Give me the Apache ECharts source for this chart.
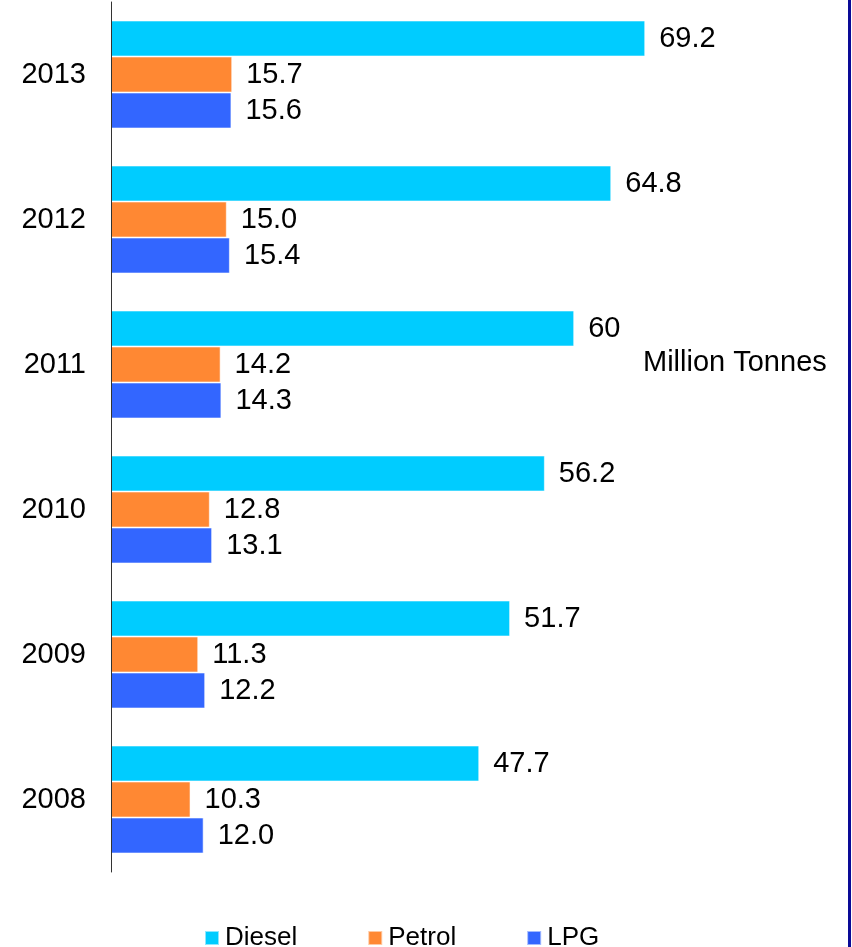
<!DOCTYPE html>
<html>
<head>
<meta charset="utf-8">
<title>Fuel consumption</title>
<script src="https://cdn.jsdelivr.net/npm/echarts@6/dist/echarts.min.js"></script>
<style>
  html, body { margin: 0; padding: 0; background: #fff; }
  #chart { width: 852px; height: 947px; }
</style>
</head>
<body>
<div id="chart"></div>
<script>
// Years, bottom to top
var years = ['2008', '2009', '2010', '2011', '2012', '2013'];
// Consumption in million tonnes (kept as written so labels show the same figures)
var diesel = ['47.7', '51.7', '56.2', '60', '64.8', '69.2'];
var petrol = ['10.3', '11.3', '12.8', '14.2', '15.0', '15.7'];
var lpg    = ['12.0', '12.2', '13.1', '14.3', '15.4', '15.6'];
var unitText = 'Million Tonnes';

var FONT = '"Liberation Sans", Arial, Helvetica, sans-serif';

function barSeries(name, values, color) {
  return {
    name: name,
    type: 'bar',
    data: values.map(Number),
    barWidth: 36,
    barGap: '0%',
    itemStyle: { color: color, borderColor: 'rgba(255,255,255,0.55)', borderWidth: 1 },
    label: {
      show: true,
      position: 'right',
      distance: 14,
      color: '#000',
      fontFamily: FONT,
      fontSize: 29,
      formatter: function (p) { return values[p.dataIndex]; }
    },
    emphasis: { disabled: true }
  };
}

var chart = echarts.init(document.getElementById('chart'), null, { renderer: 'canvas' });
chart.setOption({
  animation: false,
  backgroundColor: '#fff',
  grid: { left: 111, top: 2, width: 617.6, height: 870, containLabel: false },
  xAxis: {
    type: 'value',
    min: 0,
    max: 80,
    show: false
  },
  yAxis: {
    type: 'category',
    data: years,
    z: 5,
    axisLine: { show: true, lineStyle: { color: '#333', width: 1 } },
    axisTick: { show: false },
    axisLabel: { color: '#000', fontFamily: FONT, fontSize: 29, margin: 25 },
    splitLine: { show: false }
  },
  legend: {
    data: ['Diesel', 'Petrol', 'LPG'],
    left: 199,
    top: 919,
    icon: 'rect',
    itemWidth: 14,
    itemHeight: 14,
    itemGap: 70,
    selectedMode: false,
    textStyle: { color: '#000', fontFamily: FONT, fontSize: 26, lineHeight: 28, padding: [0, 0, 0, 1] }
  },
  graphic: [
    {
      type: 'text',
      left: 643,
      top: 348,
      style: { text: unitText, fill: '#000', font: '29px ' + FONT }
    },
    {
      type: 'rect',
      shape: { x: 848, y: 0, width: 3, height: 947 },
      style: { fill: '#0a0a96' }
    }
  ],
  series: [
    barSeries('Diesel', diesel, '#00ccff'),
    barSeries('Petrol', petrol, '#ff8833'),
    barSeries('LPG', lpg, '#3366ff')
  ]
});
</script>
</body>
</html>
